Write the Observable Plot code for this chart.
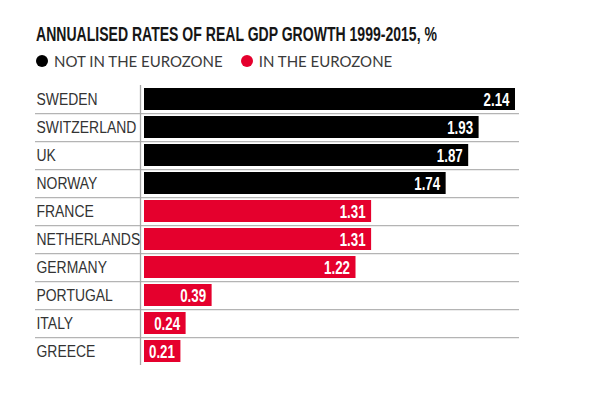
<!DOCTYPE html>
<html>
<head>
<meta charset="utf-8">
<script src="https://cdn.jsdelivr.net/npm/d3@7"></script>
<script src="https://cdn.jsdelivr.net/npm/@observablehq/plot@0.6"></script>
<style>
  html, body { margin: 0; padding: 0; background: #fff; }
  #wrap { width: 599px; height: 397px; position: relative; overflow: hidden; }
  #title { position: absolute; left: 36px; top: 23px; font-family: "Liberation Sans", Arial, sans-serif; font-weight: bold; font-size: 19.5px; line-height: 22px; color: #161616; white-space: nowrap; transform-origin: 0 50%; }
  #legend { position: absolute; left: 36px; top: 52px; font-family: Lato, "Open Sans", sans-serif; font-size: 15px; line-height: 18px; color: #3a3a3a; white-space: nowrap; display: flex; align-items: center; }
  #legend .sw { display: inline-block; width: 12px; height: 12px; border-radius: 50%; margin-right: 6px; }
  #legend .item { display: flex; align-items: center; margin-right: 18px; }
  #chart { position: absolute; left: 0; top: 0; }
  #chart svg { display: block; }
</style>
</head>
<body>
<div id="wrap">
  <div id="chart"></div>
  <div id="title">ANNUALISED RATES OF REAL GDP GROWTH 1999-2015, %</div>
  <div id="legend"></div>
</div>
<script>
const countries = ["SWEDEN","SWITZERLAND","UK","NORWAY","FRANCE","NETHERLANDS","GERMANY","PORTUGAL","ITALY","GREECE"];
const growth = [2.14, 1.93, 1.87, 1.74, 1.31, 1.31, 1.22, 0.39, 0.24, 0.21];
const groups = ["NOT IN THE EUROZONE","NOT IN THE EUROZONE","NOT IN THE EUROZONE","NOT IN THE EUROZONE","IN THE EUROZONE","IN THE EUROZONE","IN THE EUROZONE","IN THE EUROZONE","IN THE EUROZONE","IN THE EUROZONE"];
const groupNames = ["NOT IN THE EUROZONE","IN THE EUROZONE"];
const groupColors = ["#000000","#e5002d"];

const data = countries.map((c, i) => ({country: c, value: growth[i], group: groups[i]}));

// legend
const legend = document.getElementById("legend");
groupNames.forEach((g, i) => {
  const item = document.createElement("span");
  item.className = "item";
  const sw = document.createElement("span");
  sw.className = "sw";
  sw.style.background = groupColors[i];
  item.appendChild(sw);
  item.appendChild(document.createTextNode(g));
  legend.appendChild(item);
});

// condensed title (narrow face emulation)
const title = document.getElementById("title");
title.style.transform = "scaleX(" + (401 / title.scrollWidth) + ")";

const labelFont = '"Liberation Sans", Arial, sans-serif';

const chart = Plot.plot({
  width: 599,
  height: 397,
  marginTop: 84,
  marginBottom: 31,
  marginLeft: 144,
  marginRight: 84,
  style: {background: "transparent"},
  x: {domain: [0, 2.14], axis: null},
  y: {domain: countries, axis: null, paddingInner: 0.2, paddingOuter: 0.1},
  color: {domain: groupNames, range: groupColors},
  marks: [
    Plot.ruleY(countries.slice(0, -1), {y: d => d, dy: 14.1, stroke: "#b4b4b4", strokeWidth: 1.3, insetLeft: -109, insetRight: -4}),
    Plot.ruleX([0], {dx: -4, stroke: "#a8a8a8", strokeWidth: 1.3, insetTop: 1, insetBottom: 1}),
    Plot.barX(data, {x: "value", y: "country", fill: "group"}),
    Plot.text(data, {y: "country", text: "country", frameAnchor: "left", textAnchor: "start", dx: -108, dy: 0.5, fill: "#333", fontSize: 17, fontFamily: labelFont, className: "narrow-label"}),
    Plot.text(data, {x: "value", y: "country", text: d => d.value.toFixed(2), textAnchor: "end", dx: -6, dy: 0.5, fill: "#fff", fontSize: 18, fontWeight: "bold", fontFamily: labelFont, className: "narrow-value"})
  ]
});
document.getElementById("chart").appendChild(chart);

// emulate narrow faces by horizontal compression around each text's anchor
function condense(selector, k) {
  chart.querySelectorAll(selector + " text").forEach(t => {
    const tr = t.getAttribute("transform");
    if (tr) {
      t.setAttribute("transform", tr + ` scale(${k},1)`);
    } else {
      const x = +(t.getAttribute("x") || 0);
      t.setAttribute("transform", `translate(${x},0) scale(${k},1) translate(${-x},0)`);
    }
  });
}
condense(".narrow-label", 0.82);
condense(".narrow-value", 0.74);
</script>
</body>
</html>
